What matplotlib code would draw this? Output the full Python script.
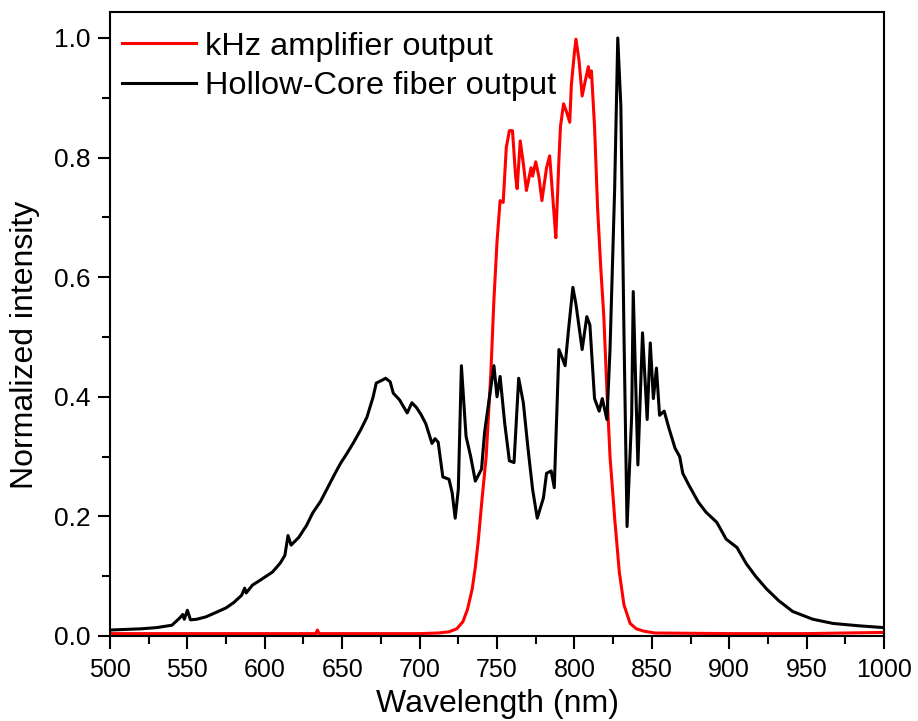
import matplotlib
matplotlib.use("Agg")
import matplotlib.pyplot as plt
from matplotlib.ticker import MultipleLocator, FormatStrFormatter

plt.rcParams['font.family'] = ['Liberation Sans', 'DejaVu Sans']

# hollow-core fiber output (black)
fiber_wl = [500, 510, 520, 530, 540, 545, 547, 548, 550, 552, 556, 562, 569, 575, 580,
            585, 587, 588, 592, 598, 605, 610, 613, 615, 617, 622, 627, 631, 636, 640,
            645, 649, 653, 657, 662, 666, 670, 672, 676, 678, 681, 683, 687, 692, 695,
            698, 701, 704, 708, 710, 712, 715, 719, 721, 723, 725, 727, 730, 733, 736,
            740, 742, 745, 748, 750, 752, 755, 758, 761, 764, 767, 770, 773, 776, 780,
            782, 785, 787, 790, 792, 794, 796, 799, 801, 805, 808, 810, 813, 816, 818,
            821, 823, 826, 828, 830, 832, 834, 837, 838, 841, 844, 847, 849, 851, 853,
            855, 858, 861, 865, 868, 870, 874, 880, 885, 892, 898, 905, 911, 917, 924,
            932, 941, 954, 967, 984, 1000]
fiber_int = [0.010, 0.011, 0.012, 0.014, 0.018, 0.030, 0.036, 0.028, 0.043, 0.027, 0.028, 0.032, 0.040, 0.047, 0.056,
             0.068, 0.080, 0.072, 0.085, 0.095, 0.107, 0.122, 0.135, 0.168, 0.152, 0.165, 0.185, 0.206, 0.225, 0.245,
             0.270, 0.289, 0.305, 0.322, 0.345, 0.366, 0.400, 0.423, 0.428, 0.431, 0.425, 0.406, 0.395, 0.373, 0.390,
             0.382, 0.370, 0.355, 0.322, 0.330, 0.324, 0.266, 0.262, 0.240, 0.197, 0.245, 0.452, 0.334, 0.300, 0.259,
             0.279, 0.341, 0.397, 0.452, 0.400, 0.434, 0.355, 0.293, 0.290, 0.431, 0.390, 0.314, 0.245, 0.197, 0.231,
             0.272, 0.276, 0.248, 0.479, 0.466, 0.452, 0.507, 0.583, 0.555, 0.479, 0.534, 0.520, 0.397, 0.376, 0.397,
             0.362, 0.479, 0.748, 1.000, 0.886, 0.507, 0.183, 0.369, 0.576, 0.286, 0.507, 0.362, 0.490, 0.397, 0.448,
             0.369, 0.376, 0.348, 0.314, 0.300, 0.272, 0.252, 0.224, 0.207, 0.190, 0.162, 0.148, 0.121, 0.100, 0.079,
             0.059, 0.041, 0.028, 0.021, 0.017, 0.014]

# kHz amplifier output (red)
amp_wl = [500, 550, 600, 633, 634, 635, 650, 700, 712, 719, 724, 728, 731, 734, 736,
          738, 740, 743, 746, 748, 750, 752, 754, 756, 758, 760, 762, 763, 765, 767,
          769, 772, 773, 775, 777, 779, 782, 784, 785, 787, 788, 790, 791, 793, 795,
          797, 798, 800, 801, 803, 805, 807, 809, 810, 811, 813, 815, 817, 819, 821,
          823, 826, 829, 832, 836, 840, 845, 852, 900, 950, 1000]
amp_int = [0.004, 0.004, 0.004, 0.004, 0.010, 0.004, 0.004, 0.004, 0.005, 0.007, 0.012, 0.024, 0.045, 0.079, 0.115,
           0.162, 0.220, 0.300, 0.438, 0.562, 0.659, 0.728, 0.725, 0.817, 0.845, 0.845, 0.769, 0.748, 0.828, 0.790,
           0.745, 0.783, 0.769, 0.793, 0.769, 0.728, 0.783, 0.803, 0.769, 0.700, 0.666, 0.797, 0.852, 0.890, 0.876,
           0.859, 0.921, 0.976, 0.998, 0.962, 0.903, 0.928, 0.952, 0.934, 0.945, 0.852, 0.714, 0.617, 0.534, 0.410,
           0.300, 0.197, 0.107, 0.052, 0.021, 0.012, 0.008, 0.005, 0.004, 0.004, 0.006]

fig = plt.figure(figsize=(9.18, 7.21), dpi=100)
ax = fig.add_axes([0.1198, 0.1179, 0.8432, 0.8655])

ax.plot(amp_wl, amp_int, color='#ff0000', lw=2.2, label='kHz amplifier output')
ax.plot(fiber_wl, fiber_int, color='black', lw=2.2, label='Hollow-Core fiber output')

ax.set_xlim(500, 1000)
ax.set_ylim(0, 1.0435)
ax.xaxis.set_major_locator(MultipleLocator(50))
ax.xaxis.set_minor_locator(MultipleLocator(25))
ax.yaxis.set_major_locator(MultipleLocator(0.2))
ax.yaxis.set_minor_locator(MultipleLocator(0.1))
ax.yaxis.set_major_formatter(FormatStrFormatter('%.1f'))

for s in ax.spines.values():
    s.set_linewidth(1.5)
ax.tick_params(which='both', direction='out', top=False, right=False, width=1.5)
ax.tick_params(which='major', length=9, pad=5)
ax.tick_params(which='minor', length=6)
ax.tick_params(axis='x', labelsize=18, pad=7)
ax.tick_params(axis='y', labelsize=19)

ax.set_xlabel('Wavelength (nm)', fontsize=23, labelpad=5)
ax.set_ylabel('Normalized intensity', fontsize=23, labelpad=10)
ax.yaxis.label.set_y(0.466)

ax.legend(loc='upper left', fontsize=23.4, frameon=False, handlelength=2.3,
          handletextpad=0.25, labelspacing=0.28, borderaxespad=0.0, borderpad=0.36,
          bbox_to_anchor=(0.0, 0.987))

fig.savefig('out.png', dpi=100)
